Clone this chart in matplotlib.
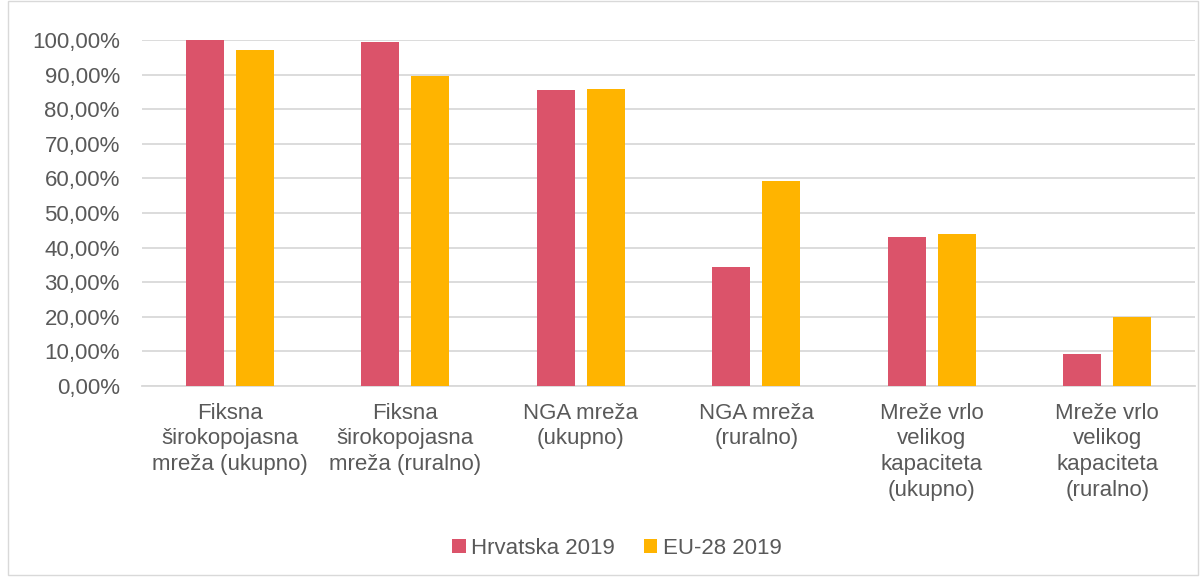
import numpy as np
import matplotlib.pyplot as plt
from matplotlib.ticker import FuncFormatter
from matplotlib.patches import Rectangle

plt.rcParams['font.family'] = ['Liberation Sans', 'DejaVu Sans']

# Data
categories = [
    "Fiksna\nširokopojasna\nmreža (ukupno)",
    "Fiksna\nširokopojasna\nmreža (ruralno)",
    "NGA mreža\n(ukupno)",
    "NGA mreža\n(ruralno)",
    "Mreže vrlo\nvelikog\nkapaciteta\n(ukupno)",
    "Mreže vrlo\nvelikog\nkapaciteta\n(ruralno)",
]
hrvatska = [100.0, 99.4, 85.5, 34.4, 43.2, 9.3]
eu28 = [97.1, 89.7, 85.7, 59.2, 43.9, 20.0]
series_names = ["Hrvatska 2019", "EU-28 2019"]

RED = "#DB536A"
YELLOW = "#FFB400"
TEXT = "#595959"

fig = plt.figure(figsize=(12, 5.77), dpi=100)
ax = fig.add_axes([142 / 1200, 1 - 386 / 577, (1195 - 142) / 1200, (386 - 40) / 577])

x = np.arange(len(categories))
w = 0.217
off = 0.1425
ax.bar(x - off, hrvatska, w, color=RED, label=series_names[0], zorder=3)
ax.bar(x + off, eu28, w, color=YELLOW, label=series_names[1], zorder=3)

ax.set_xlim(-0.5, len(categories) - 0.5)
ax.set_ylim(0, 100)
ax.set_yticks(np.arange(0, 101, 10))
ax.yaxis.set_major_formatter(FuncFormatter(lambda v, p: f"{v:.2f}%".replace(".", ",")))
ax.grid(axis="y", color="#D9D9D9", linewidth=1.3, zorder=0)
ax.set_xticks(x)
ax.set_xticklabels(categories, fontsize=16, color=TEXT, linespacing=1.3)
ax.tick_params(axis="y", labelsize=16, labelcolor=TEXT, length=0, pad=16)
ax.tick_params(axis="x", length=0, pad=12)
for s in ["top", "right", "left"]:
    ax.spines[s].set_visible(False)
ax.spines["bottom"].set_color("#D9D9D9")
ax.spines["bottom"].set_linewidth(1.3)

leg = fig.legend(loc="center", bbox_to_anchor=(0.514, 1 - 548 / 577), ncol=2, frameon=False,
                 fontsize=16, handlelength=0.6, handleheight=0.6, handletextpad=0.25,
                 columnspacing=1.3)
for t in leg.get_texts():
    t.set_color(TEXT)

fig.patches.append(Rectangle((8 / 1200, 0.003), 1 - 8 / 1200 - 0.002, 0.995, transform=fig.transFigure,
                             fill=False, edgecolor="#D9D9D9", linewidth=1))

fig.savefig("out.png", dpi=100)
